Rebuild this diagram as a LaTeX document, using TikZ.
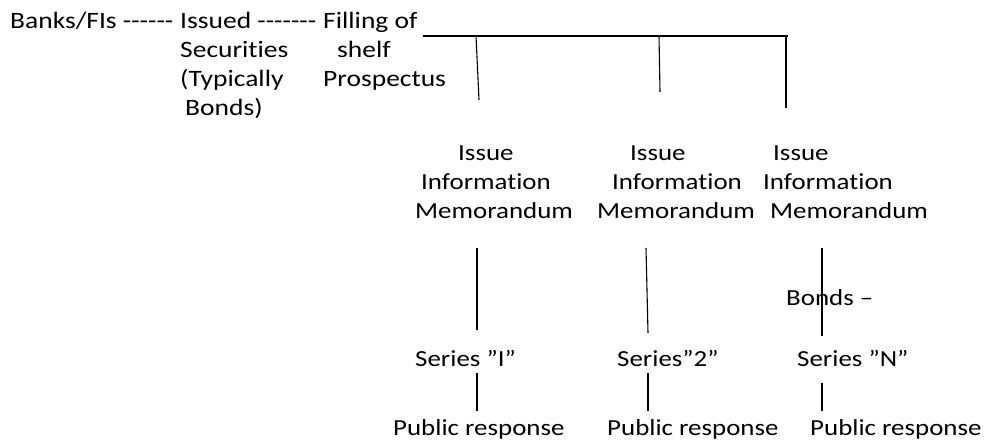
\documentclass[tikz,border=0pt]{standalone}
\usepackage{fontspec}
\setmainfont{Carlito}
\newfontfamily\squeezefont[FakeStretch=1.17,Ligatures=CommonOff]{Carlito}

\begin{document}
\begin{tikzpicture}[x=1pt,y=-1pt,
  lefttxt/.style={inner sep=0pt,anchor=base west,align=left,
    font=\squeezefont\fontsize{23.5}{29}\selectfont},
  righttxt/.style={inner sep=0pt,anchor=base west,align=left,
    font=\squeezefont\fontsize{23}{29}\selectfont},
  bus/.style={line width=1.6pt},
  link/.style={line width=1.1pt}]
  \useasboundingbox (0,0) rectangle (984,441);

  % ---- issuer, securities, shelf prospectus --------------------------
  % (a multi-line node sits on the baseline of its last line)
  \node[lefttxt] (banks)  at (10,29)  {Banks/FIs ------};
  \node[lefttxt] (issued) at (180,116) {Issued -------\\Securities\\(Typically\\\hspace*{5pt}Bonds)};
  \node[lefttxt] (shelf)  at (323,87) {Filling of\\\hspace*{14pt}shelf\\Prospectus};

  % ---- information memoranda -----------------------------------------
  \node[righttxt] (memo1) at (415,218) {\hspace*{43pt}Issue\\\hspace*{6pt}Information\\Memorandum};
  \node[righttxt] (memo2) at (597,218) {\hspace*{33pt}Issue\\\hspace*{15pt}Information\\Memorandum};
  \node[righttxt] (memo3) at (763,218) {\hspace*{10pt}Issue\\Information\\\hspace*{7pt}Memorandum};

  % ---- series and public response ------------------------------------
  \node[righttxt] (series1) at (415,366) {Series ”I”};
  \node[righttxt] (series2) at (617,366) {Series”2”};
  \node[righttxt] (bonds3)  at (786,305) {Bonds –};
  \node[righttxt] (series3) at (797,366) {Series ”N”};
  \node[righttxt] (resp1) at (393,435) {Public response};
  \node[righttxt] (resp2) at (607,435) {Public response};
  \node[righttxt] (resp3) at (810,435) {Public response};

  % ---- shelf line with its drops -------------------------------------
  \coordinate (busL) at (423,36);
  \coordinate (busR) at (788,36);
  \draw[bus] (busL) -- (busR);
  \foreach \n/\xa/\xb/\yb in {1/476/479/100, 2/659/660/92, 3/786/786/108}{
    \coordinate (drop\n) at (\xa,36);
    \coordinate (dropend\n) at (\xb,\yb);
    \draw[link] (drop\n) -- (dropend\n);
  }

  % ---- memorandum -> series -> response ------------------------------
  \foreach \n/\xa/\xb/\yb/\yc/\yd in {1/477/477/330/373/411, 2/646/648/333/373/411, 3/822/822/336/383/411}{
    \coordinate (midtop\n) at (\xa,248);
    \coordinate (midend\n) at (\xb,\yb);
    \coordinate (lowtop\n) at (\xb,\yc);
    \coordinate (lowend\n) at (\xb,\yd);
    \draw[link] (midtop\n) -- (midend\n);
    \draw[link] (lowtop\n) -- (lowend\n);
  }
\end{tikzpicture}
\end{document}
